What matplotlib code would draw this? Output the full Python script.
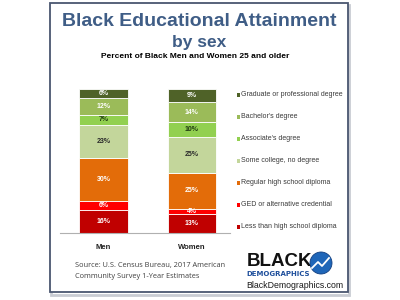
import matplotlib
matplotlib.use("Agg")
import matplotlib.pyplot as plt
from matplotlib.patches import Rectangle, Ellipse
import numpy as np

plt.rcParams['font.family'] = ['Liberation Sans', 'DejaVu Sans']

groups = ["Men", "Women"]
categories = ["Less than high school diploma", "GED or alternative credential",
              "Regular high school diploma", "Some college, no degree",
              "Associate's degree", "Bachelor's degree", "Graduate or professional degree"]
men = [16, 6, 30, 23, 7, 12, 6]
women = [13, 4, 25, 25, 10, 14, 9]
colors = ["#C00000", "#FF0000", "#E36C09", "#C3D69B", "#92D050", "#9BBB59", "#4F6228"]
label_colors = ["white", "white", "white", "#2a2a2a", "#1f3a10", "white", "white"]

W, H = 400, 300
fig = plt.figure(figsize=(4, 3), dpi=100)
fig.patch.set_facecolor("white")

def fx(x): return x / W
def fy(y): return 1 - y / H

# border with shadow
fig.add_artist(Rectangle((fx(51), fy(295)), fx(348) - fx(50), fy(5) - fy(295),
                         transform=fig.transFigure, facecolor="none",
                         edgecolor="#c9ccd3", lw=2.0, zorder=0))
fig.add_artist(Rectangle((fx(49.5), fy(292)), fx(347.5) - fx(49.5), fy(3) - fy(292),
                         transform=fig.transFigure, facecolor="white",
                         edgecolor="#4a5670", lw=1.3, zorder=1))

ax = fig.add_axes([fx(60), fy(233), fx(230) - fx(60), fy(89) - fy(233)])
ax.set_zorder(2)
ax.patch.set_alpha(0)
x = np.arange(len(groups))
data = np.array([men, women])
bottoms = np.zeros(len(groups))
for i, cat in enumerate(categories):
    vals = data[:, i]
    ax.bar(x, vals, bottom=bottoms, width=0.55, color=colors[i],
           edgecolor="white", linewidth=0.6)
    for j in range(len(groups)):
        ax.text(x[j], bottoms[j] + vals[j] / 2, f"{vals[j]}%", ha="center",
                va="center", fontsize=5, fontweight="bold", color=label_colors[i])
    bottoms += vals
ax.set_ylim(0, 100)
ax.set_xlim(-0.492, 1.431)
ax.set_yticks([])
ax.set_xticks(x)
ax.set_xticklabels(groups, fontsize=5.5, fontweight="bold", color="#222222")
ax.tick_params(axis="x", length=0, pad=8)
for s in ["top", "left", "right"]:
    ax.spines[s].set_visible(False)
ax.spines["bottom"].set_color("#b0b0b0")
ax.spines["bottom"].set_linewidth(0.8)

# titles
fig.text(fx(199), fy(21), "Black Educational Attainment", ha="center", va="center",
         fontsize=14, fontweight="bold", color="#3f5d86", zorder=3)
fig.text(fx(199), fy(42), "by sex", ha="center", va="center",
         fontsize=12.5, fontweight="bold", color="#3f5d86", zorder=3)
fig.text(fx(195), fy(57), "Percent of Black Men and Women 25 and older", ha="center",
         va="center", fontsize=6, fontweight="bold", color="black", zorder=3)

# legend
leg_y = [227, 205, 183, 161, 139, 117, 95]
for i, cat in enumerate(categories):
    fig.add_artist(Rectangle((fx(236.5), fy(leg_y[i] + 1.6)), fx(3.2), fy(0) - fy(3.2),
                             transform=fig.transFigure, facecolor=colors[i],
                             edgecolor="none", zorder=3))
    fig.text(fx(241), fy(leg_y[i]), cat, ha="left", va="center", fontsize=5,
             color="#3a3a3a", zorder=3)

# source
fig.text(fx(75), fy(265), "Source: U.S. Census Bureau, 2017 American", ha="left",
         va="center", fontsize=5.3, color="#404040", family=["Open Sans", "DejaVu Sans"], zorder=3)
fig.text(fx(75), fy(276.5), "Community Survey 1-Year Estimates", ha="left",
         va="center", fontsize=5.3, color="#404040", family=["Open Sans", "DejaVu Sans"], zorder=3)

# logo
fig.text(fx(246.5), fy(261.5), "BLACK", ha="left", va="center", fontsize=13.5,
         fontweight="bold", color="#111111", zorder=3)
fig.text(fx(246.5), fy(274.5), "DEMOGRAPHICS", ha="left", va="center", fontsize=5,
         fontweight="bold", color="#1f4f9c", family=["DejaVu Sans"], zorder=3)
fig.text(fx(246), fy(285), "BlackDemographics.com", ha="left", va="center",
         fontsize=6.3, color="#1a1a1a", zorder=3)
fig.add_artist(Ellipse((fx(321), fy(263)), 22 / W, 22 / H, transform=fig.transFigure,
                       facecolor="#1f66b8", edgecolor="#123f80", lw=0.6, zorder=5))
fig.add_artist(plt.Line2D([fx(312), fx(318), fx(322), fx(329)],
                          [fy(268), fy(262), fy(266), fy(258)],
                          transform=fig.transFigure, color="white", lw=1.3, zorder=6))

fig.savefig("out.png", dpi=100)
